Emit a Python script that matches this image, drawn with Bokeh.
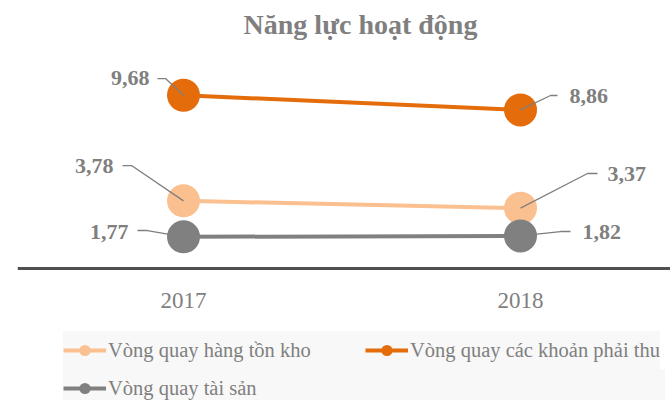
from bokeh.plotting import figure
from bokeh.models import Legend, LegendItem, FixedTicker, LinearAxis
from bokeh.core.properties import value
from bokeh.embed import file_html
from bokeh.resources import INLINE

# ---------------- data ----------------
title_text = "Năng lực hoạt động"
years = ["2017", "2018"]
series_names = ["Vòng quay hàng tồn kho", "Vòng quay các khoản phải thu", "Vòng quay tài sản"]
inventory_turnover = [3.78, 3.37]
receivables_turnover = [9.68, 8.86]
asset_turnover = [1.77, 1.82]

# ---------------- style ----------------
FONT = "Liberation Serif"
TEXT_COLOR = "#7f7f7f"
colors = ["#FAC090", "#E46C0A", "#808080"]

W, H = 670, 400
LEFT = 17
AXIS_Y = 268          # pixel row of the value 0
PX_X = 337.0          # pixels per category step
PX_Y = 17.9           # pixels per unit
x_start = -166.0 / PX_X
x_end = x_start + (W - LEFT) / PX_X
y_start = -(H - AXIS_Y) / PX_Y
y_end = AXIS_Y / PX_Y

# label placement (pixel offsets: dx right, dy up, align, leader corner dx, dy, leader end dx)
label_style = [
    [(-70, 35, "right", -52, 35.3, -61), (87, 34.5, "left", 67, 34.7, 77)],     # inventory
    [(-34, 17.5, "right", -18, 16.7, -26), (49, 14, "left", 30, 14.4, 37)],     # receivables
    [(-55, 5, "right", -36, 6.3, -46), (62, 4, "left", 40, 4.4, 50)],           # assets
]

p = figure(width=W, height=H,
           x_range=(x_start, x_end), y_range=(y_start, y_end),
           output_backend="svg", toolbar_location=None,
           x_axis_location=None, y_axis_location=None,
           min_border_left=LEFT, min_border_right=0, min_border_top=0, min_border_bottom=0)
p.background_fill_color = "white"
p.border_fill_color = "white"
p.outline_line_color = None
p.xgrid.visible = False
p.ygrid.visible = False

xs = list(range(len(years)))
all_series = [inventory_turnover, receivables_turnover, asset_turnover]

items = []
for name, vals, col in zip(series_names, all_series, colors):
    lr = p.line(xs, vals, line_color=col, line_width=4)
    sr = p.scatter(xs, vals, size=33, fill_color=col, line_color=None)
    items.append(LegendItem(label=name, renderers=[lr, sr]))

# leader lines and value labels
lead_xs, lead_ys = [], []
tx, ty, tt, ta = [], [], [], []
for vals, styles in zip(all_series, label_style):
    for i, v in enumerate(vals):
        dx, dy, align, cdx, cdy, edx = styles[i]
        x0, y0 = xs[i], v
        lead_xs.append([x0, x0 + cdx / PX_X, x0 + edx / PX_X])
        lead_ys.append([y0, y0 + cdy / PX_Y, y0 + cdy / PX_Y])
        tx.append(x0 + dx / PX_X)
        ty.append(y0 + dy / PX_Y)
        tt.append(f"{v:.2f}".replace(".", ","))
        ta.append(align)

p.multi_line(lead_xs, lead_ys, line_color="#7f7f7f", line_width=1.3)
p.text(x=tx, y=ty, text=tt, text_align=ta, text_baseline="alphabetic",
       text_font=value(FONT), text_font_style="bold", text_font_size="22px",
       text_color=TEXT_COLOR)

# title (inside the frame, centred near the top)
p.text(x=[x_start + 343 / PX_X], y=[(AXIS_Y - 24) / PX_Y], text=[title_text],
       text_align="center", text_baseline="alphabetic",
       text_font=value(FONT), text_font_style="bold", text_font_size="28px",
       text_color=TEXT_COLOR)

# x axis fixed at value 0
ax = LinearAxis(fixed_location=0)
ax.ticker = FixedTicker(ticks=xs)
ax.major_label_overrides = {i: y for i, y in enumerate(years)}
ax.axis_line_color = "#505050"
ax.axis_line_width = 3
ax.major_tick_line_color = None
ax.minor_tick_line_color = None
ax.major_tick_out = 0
ax.major_tick_in = 0
ax.minor_tick_out = 0
ax.minor_tick_in = 0
ax.major_label_standoff = 24
ax.major_label_text_font = FONT
ax.major_label_text_font_size = "23px"
ax.major_label_text_color = TEXT_COLOR
p.add_layout(ax, "below")

common = dict(background_fill_color="#f8f8f8", background_fill_alpha=1.0,
              border_line_color=None,
              label_text_font=FONT, label_text_font_size="20.5px", label_text_color=TEXT_COLOR,
              glyph_width=43, glyph_height=28, label_height=38,
              label_standoff=2, padding=0, margin=0)
legend1 = Legend(items=items[:2], location=(46, 400 - 369), orientation="horizontal",
                 label_width=243, spacing=14, **common)
legend2 = Legend(items=items[2:], location=(46, 400 - 407), orientation="horizontal",
                 label_width=557, spacing=0, **common)
p.add_layout(legend1)
p.add_layout(legend2)

open("out.html", "w").write(file_html(p, INLINE))
